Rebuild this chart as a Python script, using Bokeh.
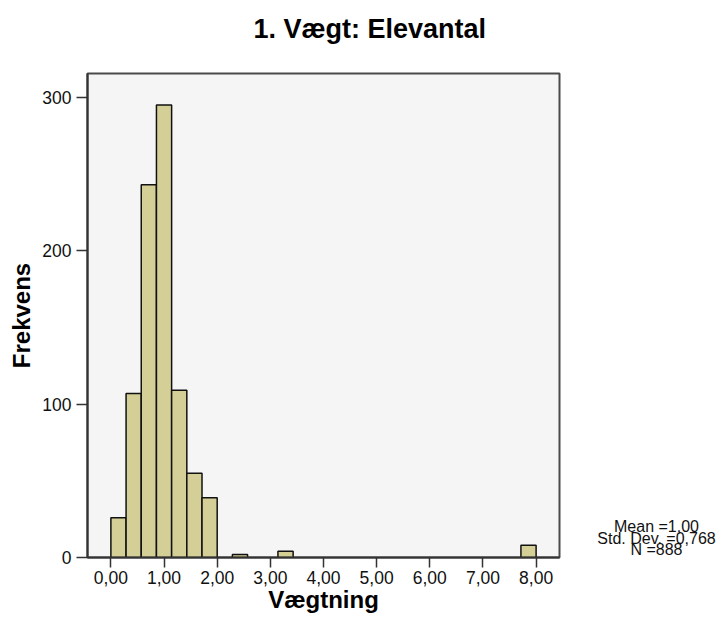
import numpy as np
from bokeh.plotting import figure
from bokeh.layouts import row, column
from bokeh.models import FixedTicker, Range1d, ColumnDataSource
from bokeh.core.properties import value
from bokeh.embed import file_html
from bokeh.resources import INLINE

# ---- data ----
title_text = "1. Vægt: Elevantal"
x_label = "Vægtning"
y_label = "Frekvens"
bin_lo, bin_hi, n_bins = 0.0, 8.0, 28
counts = [26, 107, 243, 295, 109, 55, 39, 0, 2, 0, 0, 4, 0, 0,
          0, 0, 0, 0, 0, 0, 0, 0, 0, 0, 0, 0, 0, 8]
x_ticks = [0, 1, 2, 3, 4, 5, 6, 7, 8]
x_tick_labels = ["0,00", "1,00", "2,00", "3,00", "4,00", "5,00", "6,00", "7,00", "8,00"]
y_ticks = [0, 100, 200, 300]
stats_lines = ["Mean =1,00", "Std. Dev. =0,768", "N =888"]

edges = np.linspace(bin_lo, bin_hi, n_bins + 1)
left, right, top = [], [], []
for i, c in enumerate(counts):
    if c > 0:
        left.append(edges[i]); right.append(edges[i + 1]); top.append(c)
src = ColumnDataSource(dict(left=left, right=right, top=top, bottom=[0] * len(top)))

FONT = "Liberation Sans"
HEAD_H = 71
TOP, BOTTOM = 2, 61
MAIN_H = 618 - HEAD_H

# ---- title strip ----
h = figure(width=716, height=HEAD_H, title=None,
           min_border_left=87, min_border_right=157,
           min_border_top=0, min_border_bottom=0,
           x_range=Range1d(0, 472), y_range=Range1d(0, HEAD_H),
           x_axis_type=None, y_axis_type=None,
           output_backend="svg", toolbar_location=None,
           background_fill_color="white", border_fill_color="white")
h.grid.visible = False
h.outline_line_color = None
h.text(x=[166], y=[42.5], text=[title_text],
       text_font=value(FONT), text_font_size="27px", text_font_style="bold",
       text_align="left", text_baseline="middle", text_color="black")

# ---- main histogram ----
p = figure(width=571, height=MAIN_H, title=None,
           min_border_left=87, min_border_right=12,
           min_border_top=TOP, min_border_bottom=BOTTOM,
           x_range=Range1d(-0.44, 8.44), y_range=Range1d(0, 315.6),
           output_backend="svg", toolbar_location=None,
           background_fill_color="#f5f5f5", border_fill_color="white")

p.quad(left="left", right="right", top="top", bottom="bottom", source=src,
       fill_color="#d4cf97", line_color="#111111", line_width=1.5)

p.grid.visible = False
p.outline_line_color = "#4a4a4a"
p.outline_line_width = 2

for ax in (p.xaxis[0], p.yaxis[0]):
    ax.axis_line_color = "#333333"
    ax.axis_line_width = 2
    ax.major_tick_line_color = "#333333"
    ax.major_tick_line_width = 1.5
    ax.major_tick_in = 0
    ax.minor_tick_line_color = None
    ax.major_label_text_font = FONT
    ax.major_label_text_font_size = "17.5px"
    ax.major_label_text_color = "#111111"
    ax.axis_label_text_font = FONT
    ax.axis_label_text_font_size = "24px"
    ax.axis_label_text_font_style = "bold"
    ax.axis_label_text_color = "black"

p.xaxis.ticker = FixedTicker(ticks=x_ticks)
p.xaxis.major_label_overrides = {t: s for t, s in zip(x_ticks, x_tick_labels)}
p.xaxis.major_tick_out = 10
p.xaxis.major_label_standoff = 3
p.xaxis.axis_label = x_label
p.xaxis.axis_label_standoff = -1

p.yaxis.ticker = FixedTicker(ticks=y_ticks)
p.yaxis.major_tick_out = 11
p.yaxis.major_label_standoff = 5
p.yaxis.axis_label = y_label
p.yaxis.axis_label_standoff = 4

# ---- statistics text panel (right of the histogram) ----
s = figure(width=145, height=MAIN_H, title=None,
           min_border_left=0, min_border_right=0,
           min_border_top=TOP, min_border_bottom=BOTTOM,
           x_range=Range1d(0, 145), y_range=Range1d(0, 484),
           x_axis_type=None, y_axis_type=None,
           output_backend="svg", toolbar_location=None,
           background_fill_color="white", border_fill_color="white")
s.grid.visible = False
s.outline_line_color = None
s.text(x=[85, 85, 85], y=[31, 19.5, 8], text=stats_lines,
       text_font=value(FONT), text_font_size="16px",
       text_align="center", text_baseline="middle", text_color="#111111")

layout = column(h, row(p, s, spacing=0), spacing=0)
open("out.html", "w").write(file_html(layout, INLINE))
